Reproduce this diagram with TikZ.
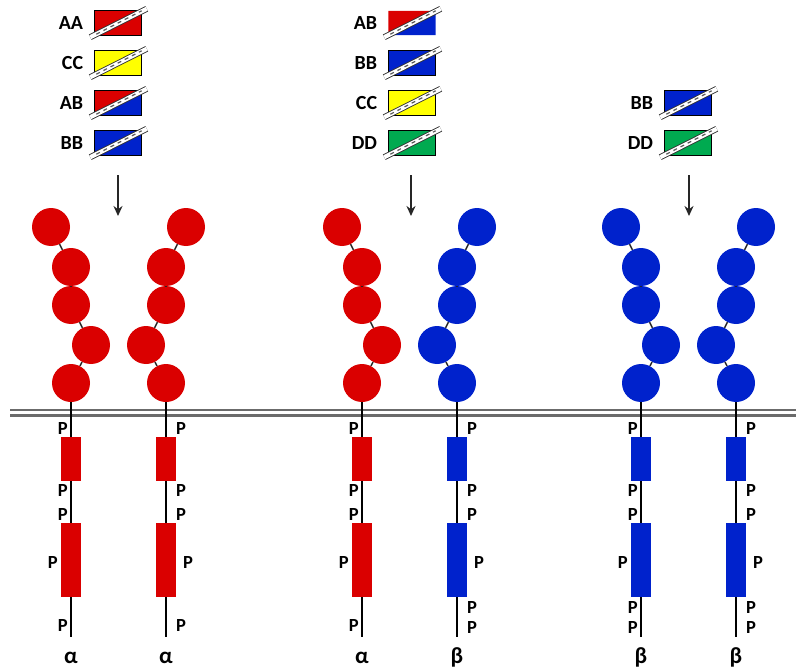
\documentclass[tikz,border=0pt]{standalone}
\usepackage{fontspec}
\setmainfont{Carlito}
\usetikzlibrary{arrows.meta,positioning,calc}

\definecolor{rred}{RGB}{218,0,0}
\definecolor{rblue}{RGB}{0,34,204}
\definecolor{ryellow}{RGB}{255,255,0}
\definecolor{rgreen}{RGB}{0,170,80}

\tikzset{
  dom/.style={circle, fill=#1, inner sep=0pt, minimum size=38pt},
  kin/.style={rectangle, fill=#1, inner sep=0pt, minimum width=20pt},
  link/.style={black!85, line width=1.4pt},
  stem/.style={black, line width=1.5pt},
  plab/.style={font=\fontsize{18.5}{20}\selectfont\bfseries, inner sep=0pt},
  sub/.style={font=\fontsize{23}{25}\selectfont\bfseries, inner sep=0pt},
  ligbox/.style={rectangle, inner sep=0pt, minimum width=47pt, minimum height=24pt},
  ligedge/.style={draw=black, line width=1pt},
  liglab/.style={font=\fontsize{20}{22}\selectfont\bfseries, inner sep=0pt},
  cutedge/.style={black!80, line width=6pt},
  cutfill/.style={white, line width=4.2pt},
  cutdash/.style={black!65, line width=1.2pt, dash pattern=on 4pt off 4pt},
  arr/.style={-{Stealth[length=10pt,width=9pt]}, black!85, line width=1.6pt},
  membrane/.style={black!58, line width=2.2pt, double=white, double distance=3.6pt}
}

% ligand: [box edge] name, x, y, upper colour, lower colour, label
\newcommand{\lig}[7][ligedge]{%
  \node[ligbox] (#2) at (#3,#4) {};
  \fill[#5] (#2.north west) -- (#2.north east) -- (#2.south west) -- cycle;
  \fill[#6] (#2.south west) -- (#2.north east) -- (#2.south east) -- cycle;
  \path[#1] (#2.north west) rectangle (#2.south east);
  \draw[cutedge] ($(#2.south west)+(-4,2)$) -- ($(#2.north east)+(5,-2)$);
  \draw[cutfill] ($(#2.south west)+(-4,2)$) -- ($(#2.north east)+(5,-2)$);
  \draw[cutdash] ($(#2.south west)+(2,-1)$) -- ($(#2.north east)+(0,0)$);
  \node[liglab, left=11pt of #2] (#2t) {#7};
}

% receptor: name, stem x, side (-1 left, 1 right), colour, subunit (a/b)
\newcommand{\rcpt}[5]{%
  \ifnum#3<0 \def\Panch{east}\def\Poff{-3}\def\Pmid{-13}%
  \else \def\Panch{west}\def\Poff{10}\def\Pmid{17}\fi
  \node[dom=#4] (#1c1) at ({#2+20*#3},227) {};
  \node[dom=#4] (#1c2) at (#2,267) {};
  \node[dom=#4] (#1c3) at (#2,305) {};
  \node[dom=#4] (#1c4) at ({#2-20*#3},345) {};
  \node[dom=#4] (#1c5) at (#2,383) {};
  \draw[link] (#1c1) -- (#1c2);
  \draw[link] (#1c2) -- (#1c3);
  \draw[link] (#1c3) -- (#1c4);
  \draw[link] (#1c4) -- (#1c5);
  \coordinate (#1e) at (#2,637);
  \draw[stem] (#1c5) -- (#1e);
  \node[kin=#4, minimum height=44pt] (#1k1) at (#2,459) {};
  \node[kin=#4, minimum height=74pt] (#1k2) at (#2,560) {};
  \node[plab, anchor=\Panch] (#1p1) at ({#2+\Poff},428) {P};
  \node[plab, anchor=\Panch] (#1p2) at ({#2+\Poff},490) {P};
  \node[plab, anchor=\Panch] (#1p3) at ({#2+\Poff},514) {P};
  \node[plab, anchor=\Panch] (#1p4) at ({#2+\Pmid},562) {P};
  \ifx a#5
    \node[plab, anchor=\Panch] (#1p5) at ({#2+\Poff},625) {P};
    \node[sub, anchor=base] (#1g) at (#2,663) {α};
  \else
    \node[plab, anchor=\Panch] (#1p5) at ({#2+\Poff},607) {P};
    \node[plab, anchor=\Panch] (#1p6) at ({#2+\Poff},627) {P};
    \node[sub, anchor=base] (#1g) at (#2,663) {β};
  \fi
}

\begin{document}
\begin{tikzpicture}[x=1pt,y=-1pt]
\useasboundingbox (0,0) rectangle (796,669);

% ligands
\lig{l1}{118}{23}{rred}{rred}{AA}
\lig{l2}{118}{63}{ryellow}{ryellow}{CC}
\lig{l3}{118}{103}{rred}{rblue}{AB}
\lig{l4}{118}{143}{rblue}{rblue}{BB}
\lig[draw=none]{l5}{412}{23}{rred}{rblue}{AB}
\lig{l6}{412}{63}{rblue}{rblue}{BB}
\lig{l7}{412}{103}{ryellow}{ryellow}{CC}
\lig{l8}{412}{143}{rgreen}{rgreen}{DD}
\lig{l9}{688}{103}{rblue}{rblue}{BB}
\lig{l10}{688}{143}{rgreen}{rgreen}{DD}

\coordinate (a1s) at (118,175); \coordinate (a1e) at (118,216);
\coordinate (a2s) at (411,175); \coordinate (a2e) at (411,216);
\coordinate (a3s) at (689,175); \coordinate (a3e) at (689,216);
\draw[arr] (a1s) -- (a1e);
\draw[arr] (a2s) -- (a2e);
\draw[arr] (a3s) -- (a3e);

% membrane
\coordinate (m1) at (10,412.5);
\coordinate (m2) at (796,412.5);
\draw[membrane] (m1) -- (m2);

% receptor dimers
\rcpt{ra}{71}{-1}{rred}{a}
\rcpt{rb}{166}{1}{rred}{a}
\rcpt{rc}{362}{-1}{rred}{a}
\rcpt{rd}{457}{1}{rblue}{b}
\rcpt{re}{641}{-1}{rblue}{b}
\rcpt{rf}{736}{1}{rblue}{b}
\end{tikzpicture}
\end{document}
